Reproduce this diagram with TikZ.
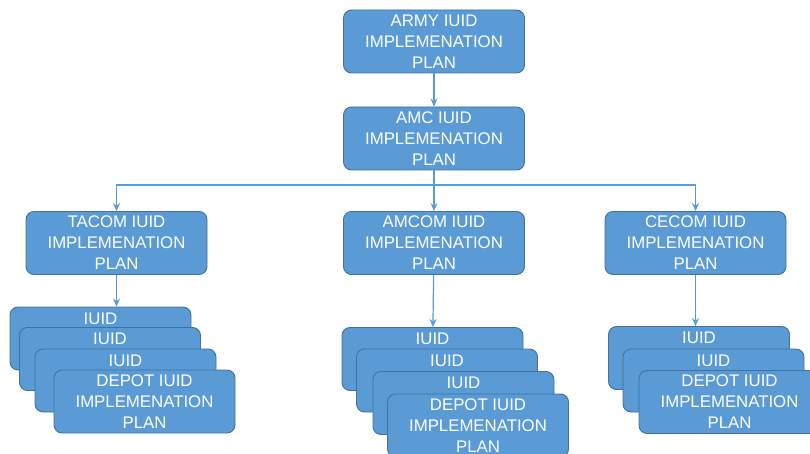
\documentclass[tikz,border=0pt]{standalone}
\usepackage{fontspec}
\setmainfont{Liberation Sans}
\usetikzlibrary{arrows.meta}
\definecolor{boxblue}{HTML}{5B9BD5}
\definecolor{boxline}{HTML}{41719C}

\begin{document}
\begin{tikzpicture}[x=1pt,y=-1pt,
    blue box/.style={draw=boxline,line width=0.9pt,fill=boxblue,rounded corners=8pt,
      text=white,minimum width=181pt,minimum height=63pt,inner sep=3pt,
      font=\fontsize{16.8}{21}\selectfont},
    plan/.style={blue box,align=center},
    stackbox/.style={blue box,text height=14pt,text depth=43pt},
    link/.style={color=boxblue,line width=1.2pt,-{Stealth[length=8pt,width=7pt]}}]
  \clip (0,0) rectangle (810,454);
  % top of the tree
  \node[plan] (army) at (434,41.5) {ARMY IUID\\IMPLEMENATION\\PLAN};
  \node[plan] (amc) at (434,138.5) {AMC IUID\\IMPLEMENATION\\PLAN};
  \node[plan] (tacom) at (116.5,243) {TACOM IUID\\IMPLEMENATION\\PLAN};
  \node[plan] (amcom) at (434,243) {AMCOM IUID\\IMPLEMENATION\\PLAN};
  \node[plan] (cecom) at (695.5,243) {CECOM IUID\\IMPLEMENATION\\PLAN};
  % stacks
  \node[stackbox] (tacom-1) at (100.5,338.5) {IUID};
  \node[stackbox] (tacom-2) at (110,359) {IUID};
  \node[stackbox] (tacom-3) at (125.5,380.5) {IUID};
  \node[plan] (tacom-4) at (144.5,401.5) {DEPOT IUID\\IMPLEMENATION\\PLAN};
  \node[stackbox] (amcom-1) at (432.5,359) {IUID};
  \node[stackbox] (amcom-2) at (447,380.5) {IUID};
  \node[stackbox] (amcom-3) at (463.5,403) {IUID};
  \node[plan] (amcom-4) at (478,425.5) {DEPOT IUID\\IMPLEMENATION\\PLAN};
  \node[stackbox] (cecom-1) at (699,358) {IUID};
  \node[stackbox] (cecom-2) at (713.5,380.5) {IUID};
  \node[plan] (cecom-3) at (729.5,402) {DEPOT IUID\\IMPLEMENATION\\PLAN};
  \coordinate (split) at (434,185);
  \path[link]
    (army) edge (amc)
    (amc) edge (amcom)
    (amcom) edge (amcom-1);
  \draw[link] (split) -| (tacom);
  \draw[link] (split) -| (cecom);
  \draw[link] (tacom.south) -- (tacom.south |- tacom-1.north);
  \draw[link] (cecom.south) -- (cecom.south |- cecom-1.north);
\end{tikzpicture}
\end{document}
